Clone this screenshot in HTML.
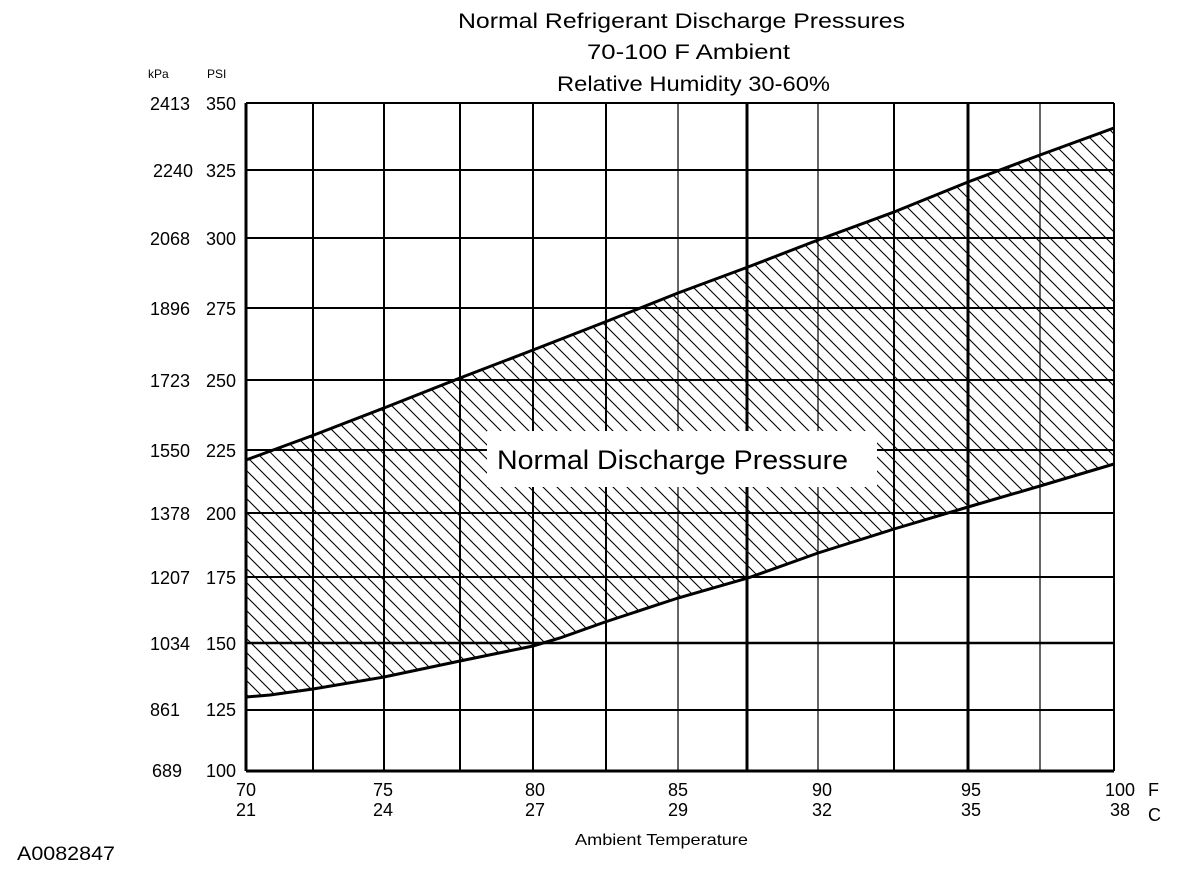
<!DOCTYPE html>
<html><head><meta charset="utf-8"><style>body{margin:0;background:#fff}svg{display:block}</style></head><body>
<svg width="1200" height="878" viewBox="0 0 1200 878" xmlns="http://www.w3.org/2000/svg" font-family="Liberation Sans, Arial, sans-serif">
<defs>
<clipPath id="band"><path d="M246,460 L314,435 L384,408 L460,378 L533,350 L605,322 L678,293 L748,267 L818,240 L894,212 L968,182 L1040,155 L1114,128 L1114,464 L1040,486 L968,507 L894,529 L818,553 L748,578 L678,598 L605,622 L560,638 L533,646 L460,661 L384,677 L313,689 L270,695 L246,697 Z"/></clipPath>
<pattern id="h" width="14" height="14" patternUnits="userSpaceOnUse"><path d="M-1,-1 L15,15 M-8,6 L8,22 M6,-8 L22,8" stroke="#000" stroke-width="1.1"/></pattern>
</defs>
<rect x="246" y="100" width="868" height="671" fill="url(#h)" clip-path="url(#band)"/>
<g stroke="#000" stroke-width="2">
<line x1="246" y1="103" x2="1114" y2="103"/>
<line x1="246" y1="170" x2="1114" y2="170"/>
<line x1="246" y1="238" x2="1114" y2="238"/>
<line x1="246" y1="308" x2="1114" y2="308"/>
<line x1="246" y1="380" x2="1114" y2="380"/>
<line x1="246" y1="450" x2="1114" y2="450"/>
<line x1="246" y1="513" x2="1114" y2="513"/>
<line x1="246" y1="577" x2="1114" y2="577"/>
<line x1="246" y1="643" x2="1114" y2="643" stroke-width="2.5"/>
<line x1="246" y1="710" x2="1114" y2="710"/>
<line x1="313" y1="103" x2="313" y2="771"/>
<line x1="384" y1="103" x2="384" y2="771"/>
<line x1="460" y1="103" x2="460" y2="771"/>
<line x1="533" y1="103" x2="533" y2="771"/>
<line x1="606" y1="103" x2="606" y2="771"/>
<line x1="678" y1="103" x2="678" y2="771" stroke-width="1.2"/>
<line x1="747" y1="103" x2="747" y2="771" stroke-width="3"/>
<line x1="818" y1="103" x2="818" y2="771" stroke-width="1.2"/>
<line x1="894" y1="103" x2="894" y2="771"/>
<line x1="968" y1="103" x2="968" y2="771" stroke-width="3"/>
<line x1="1040" y1="103" x2="1040" y2="771" stroke-width="1.2"/>
<line x1="1114" y1="103" x2="1114" y2="771"/>
<line x1="246" y1="103" x2="246" y2="771" stroke-width="3"/>
<line x1="246" y1="771" x2="1114" y2="771" stroke-width="3"/>
</g>
<g fill="none" stroke="#000" stroke-width="3">
<path d="M246,460 L314,435 L384,408 L460,378 L533,350 L605,322 L678,293 L748,267 L818,240 L894,212 L968,182 L1040,155 L1114,128"/>
<path d="M246,697 L270,695 L313,689 L384,677 L460,661 L533,646 L560,638 L605,622 L678,598 L748,578 L818,553 L894,529 L968,507 L1040,486 L1114,464"/>
</g>
<rect x="487" y="431" width="390" height="56" fill="#fff"/>
<text x="497" y="469" font-size="27" textLength="351" lengthAdjust="spacingAndGlyphs">Normal Discharge Pressure</text>
<g font-size="21">
<text x="458" y="28" textLength="447" lengthAdjust="spacingAndGlyphs">Normal  Refrigerant  Discharge  Pressures</text>
<text x="587" y="59" textLength="203" lengthAdjust="spacingAndGlyphs">70-100 F Ambient</text>
<text x="557" y="91" textLength="273" lengthAdjust="spacingAndGlyphs">Relative Humidity 30-60%</text>
</g>
<g font-size="12"><text x="148" y="78">kPa</text><text x="207" y="78">PSI</text></g>
<g font-size="18" text-anchor="end">
<text x="190" y="110">2413</text><text x="236" y="110">350</text>
<text x="193" y="177">2240</text><text x="236" y="177">325</text>
<text x="190" y="245">2068</text><text x="236" y="245">300</text>
<text x="190" y="315">1896</text><text x="236" y="315">275</text>
<text x="190" y="387">1723</text><text x="236" y="387">250</text>
<text x="190" y="457">1550</text><text x="236" y="457">225</text>
<text x="190" y="520">1378</text><text x="236" y="520">200</text>
<text x="190" y="584">1207</text><text x="236" y="584">175</text>
<text x="190" y="650">1034</text><text x="236" y="650">150</text>
<text x="180" y="716">861</text><text x="236" y="716">125</text>
<text x="182" y="777">689</text><text x="236" y="777">100</text>
</g>
<g font-size="18" text-anchor="middle">
<text x="246" y="796">70</text><text x="246" y="816">21</text>
<text x="383" y="796">75</text><text x="383" y="816">24</text>
<text x="535" y="796">80</text><text x="535" y="816">27</text>
<text x="678" y="796">85</text><text x="678" y="816">29</text>
<text x="822" y="796">90</text><text x="822" y="816">32</text>
<text x="971" y="796">95</text><text x="971" y="816">35</text>
<text x="1120" y="796">100</text><text x="1120" y="816">38</text>
</g>
<text x="1148" y="796" font-size="18">F</text>
<text x="1148" y="821" font-size="18">C</text>
<text x="575" y="845" font-size="16" textLength="173" lengthAdjust="spacingAndGlyphs">Ambient Temperature</text>
<text x="17" y="860" font-size="19" textLength="98" lengthAdjust="spacingAndGlyphs">A0082847</text>
</svg>
</body></html>
